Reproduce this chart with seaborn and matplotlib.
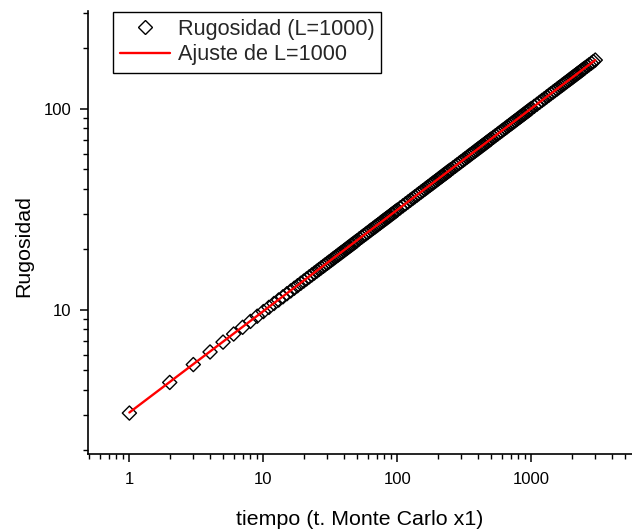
import matplotlib
matplotlib.use("Agg")
import matplotlib.pyplot as plt
import matplotlib.ticker as mticker
from matplotlib.lines import Line2D
import numpy as np
import pandas as pd
import seaborn as sns

# ---------------- data ----------------
tiempo = [
    1, 2, 3, 4, 5, 6, 7, 8, 9, 10,
    11, 12, 13, 14, 15, 16, 17, 18, 19, 20,
    21, 22, 23, 24, 25, 26, 27, 28, 29, 30,
    31, 32, 33, 34, 35, 36, 37, 38, 39, 40,
    41, 42, 43, 44, 45, 46, 47, 48, 49, 50,
    52, 54, 56, 58, 60, 62, 64, 66, 68, 70,
    72, 74, 76, 78, 80, 82, 84, 86, 88, 90,
    92, 94, 96, 98, 100,
    105, 110, 115, 120, 125, 130, 135, 140, 145, 150,
    155, 160, 165, 170, 175, 180, 185, 190, 195, 200,
    205, 210, 215, 220, 225, 230, 235, 240, 245, 250,
    260, 270, 280, 290, 300, 310, 320, 330, 340, 350,
    360, 370, 380, 390, 400, 410, 420, 430, 440, 450,
    460, 470, 480, 490, 500,
    520, 540, 560, 580, 600, 620, 640, 660, 680, 700,
    720, 740, 760, 780, 800, 820, 840, 860, 880, 900,
    920, 940, 960, 980, 1000,
    1050, 1100, 1150, 1200, 1250, 1300, 1350, 1400, 1450, 1500,
    1550, 1600, 1650, 1700, 1750, 1800, 1850, 1900, 1950, 2000,
    2050, 2100, 2150, 2200, 2250, 2300, 2350, 2400, 2450, 2500,
    2600, 2700, 2800, 2900, 3000,
]
rugosidad = [
    3.07, 4.36, 5.35, 6.18, 6.92, 7.59, 8.20, 8.77, 9.31, 9.82,
    10.30, 10.77, 11.21, 11.63, 12.05, 12.44, 12.83, 13.20, 13.57, 13.92,
    14.27, 14.61, 14.94, 15.26, 15.58, 15.89, 16.20, 16.49, 16.79, 17.08,
    17.36, 17.64, 17.92, 18.19, 18.46, 18.72, 18.98, 19.24, 19.49, 19.74,
    19.99, 20.23, 20.47, 20.71, 20.95, 21.18, 21.41, 21.64, 21.87, 22.09,
    22.58, 23.01, 23.43, 23.85, 24.25, 24.68, 25.07, 25.46, 25.84, 26.22,
    26.59, 26.96, 27.35, 27.71, 28.06, 28.41, 28.75, 29.09, 29.43, 29.79,
    30.12, 30.44, 30.77, 31.08, 31.40,
    32.20, 32.96, 33.72, 34.44, 35.16, 35.86, 36.55, 37.22, 37.90, 38.55,
    39.19, 39.82, 40.45, 41.06, 41.67, 42.26, 42.86, 43.43, 44.01, 44.58,
    45.13, 45.69, 46.23, 46.77, 47.31, 47.83, 48.35, 48.88, 49.38, 49.88,
    50.89, 51.86, 52.83, 53.76, 54.70, 55.62, 56.51, 57.39, 58.27, 59.12,
    59.98, 60.80, 61.64, 62.44, 63.26, 64.04, 64.82, 65.61, 66.37, 67.12,
    67.88, 68.61, 69.34, 70.08, 70.80,
    72.22, 73.62, 74.97, 76.32, 77.62, 78.93, 80.19, 81.44, 82.69, 83.90,
    85.11, 86.29, 87.47, 88.62, 89.75, 90.89, 91.99, 93.11, 94.19, 95.25,
    96.33, 97.37, 98.41, 99.46, 100.5,
    103.0, 105.4, 107.8, 110.2, 112.4, 114.7, 116.9, 119.1, 121.2, 123.3,
    125.3, 127.4, 129.3, 131.3, 133.2, 135.2, 137.0, 138.9, 140.7, 142.5,
    144.3, 146.1, 147.8, 149.6, 151.3, 152.9, 154.6, 156.3, 157.9, 159.6,
    162.8, 165.9, 168.9, 172.0, 175.0,
]
# fitted power law (straight line in log-log): end points
ajuste_t = [1, 3000]
ajuste_w = [3.09, 175.0]

x_ticks = [1, 10, 100, 1000]
x_tick_labels = ["1", "10", "100", "1000"]
y_ticks = [10, 100]
y_tick_labels = ["10", "100"]

label_datos = "Rugosidad (L=1000)"
label_ajuste = "Ajuste de L=1000"
xlabel = "tiempo (t. Monte Carlo x1)"
ylabel = "Rugosidad"

# ---------------- styling ----------------
sns.set_style("ticks")
plt.rcParams["font.family"] = ["Liberation Sans", "DejaVu Sans"]

W, H = 632, 530
fig = plt.figure(figsize=(W / 100, H / 100), dpi=100)
ax = fig.add_axes([88 / W, (H - 454) / H, (W - 88) / W, (454 - 11) / H])

df = pd.DataFrame({"t": tiempo, "w": rugosidad})
df_fit = pd.DataFrame({"t": ajuste_t, "w": ajuste_w})

MS = 7.2
MEW = 1.0

sns.scatterplot(data=df, x="t", y="w", marker="D", s=MS ** 2,
                linewidth=MEW, ax=ax, zorder=2, legend=False)
pts = ax.collections[0]
pts.set_facecolor("none")
pts.set_edgecolor("black")

sns.lineplot(data=df_fit, x="t", y="w", color="red", linewidth=1.7,
             ax=ax, zorder=3, legend=False)

ax.set_xscale("log")
ax.set_yscale("log")
ax.set_xlim(0.491, 5640)
ax.set_ylim(1.921, 307)

ax.set_xticks(x_ticks, labels=x_tick_labels)
ax.set_yticks(y_ticks, labels=y_tick_labels)
ax.xaxis.set_minor_locator(mticker.LogLocator(base=10, subs=np.arange(2, 10), numticks=100))
ax.yaxis.set_minor_locator(mticker.LogLocator(base=10, subs=np.arange(2, 10), numticks=100))
ax.xaxis.set_minor_formatter(mticker.NullFormatter())
ax.yaxis.set_minor_formatter(mticker.NullFormatter())

sns.despine(ax=ax)
for sp in ("left", "bottom"):
    ax.spines[sp].set_linewidth(1.2)
    ax.spines[sp].set_color("black")

ax.tick_params(which="major", direction="out", length=6, width=1.1,
               labelsize=12, colors="black", pad=6)
ax.tick_params(which="minor", direction="out", length=3.5, width=1.0,
               colors="black")
ax.tick_params(axis="x", which="major", pad=7)

ax.set_xlabel(xlabel, fontsize=15.4, color="black")
ax.set_ylabel(ylabel, fontsize=15.4, color="black")
ax.xaxis.set_label_coords(0.5, -0.126)
ax.yaxis.set_label_coords(-0.101, 0.47)

h1 = Line2D([], [], marker="D", linestyle="none", markersize=MS,
            markerfacecolor="none", markeredgecolor="black", markeredgewidth=MEW)
h2 = Line2D([], [], color="red", linewidth=1.7)
leg = ax.legend([h1, h2], [label_datos, label_ajuste], loc="upper left",
                bbox_to_anchor=(0.046, 0.998), borderaxespad=0,
                fontsize=15.6, frameon=True, fancybox=False,
                handlelength=2.3, handletextpad=0.35, borderpad=0.33,
                labelspacing=0.2)
leg.get_frame().set_edgecolor("black")
leg.get_frame().set_linewidth(1.0)
leg.get_frame().set_alpha(1)

fig.savefig("out.png", dpi=100)
